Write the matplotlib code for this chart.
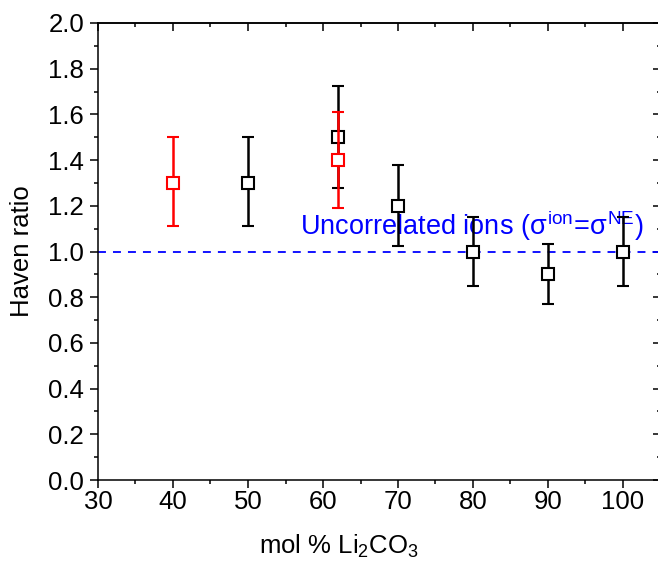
import numpy as np
import matplotlib
matplotlib.use("Agg")
import matplotlib.pyplot as plt
from matplotlib.ticker import MultipleLocator

plt.rcParams['font.family'] = ['Liberation Sans', 'DejaVu Sans']
plt.rcParams['mathtext.fontset'] = 'custom'
plt.rcParams['mathtext.rm'] = 'Liberation Sans'
plt.rcParams['mathtext.it'] = 'Liberation Sans'
plt.rcParams['mathtext.bf'] = 'Liberation Sans:bold'

# black series
black_x = [50, 62, 70, 80, 90, 100]
black_y = [1.30, 1.50, 1.20, 1.00, 0.90, 1.00]
black_lo = [0.19, 0.22, 0.175, 0.15, 0.13, 0.15]
black_hi = [0.20, 0.225, 0.18, 0.15, 0.135, 0.15]

# red series
red_x = [40, 62]
red_y = [1.30, 1.40]
red_lo = [0.19, 0.21]
red_hi = [0.20, 0.21]

uncorrelated = 1.0
xticks = [30, 40, 50, 60, 70, 80, 90, 100]
yticks = np.arange(0, 2.01, 0.2)

fig = plt.figure(figsize=(6.58, 5.68), dpi=100)
W, H = 658, 568
ax = fig.add_axes([98 / W, 1 - 480 / H, (660.5 - 98) / W, (480 - 23) / H])

ax.axhline(uncorrelated, color='#0000ff', lw=1.3, ls=(0, (4.4, 3.9)), zorder=1)

ax.errorbar(black_x, black_y, yerr=[black_lo, black_hi], fmt='s', color='black',
            mfc='white', mec='black', ms=8.5, mew=1.5, elinewidth=1.8,
            capsize=4.3, capthick=1.8, zorder=3)
ax.errorbar(red_x, red_y, yerr=[red_lo, red_hi], fmt='s', color='#ff0000',
            mfc='white', mec='#ff0000', ms=8.5, mew=1.5, elinewidth=1.8,
            capsize=4.3, capthick=1.8, zorder=4)

ax.text(56.9, 1.072, r"Uncorrelated ions ($\sigma^{\mathrm{ion}}$=$\sigma^{\mathrm{NE}}$)",
        color='#0000ff', fontsize=19.5, va='baseline', zorder=2)

ax.set_xlim(30, 105)
ax.set_ylim(0, 2.0)
ax.set_xticks(xticks)
ax.xaxis.set_minor_locator(MultipleLocator(5))
ax.set_yticks(yticks)
ax.set_yticklabels([f"{v:.1f}" for v in yticks])
ax.yaxis.set_minor_locator(MultipleLocator(0.1))

for s in ax.spines.values():
    s.set_linewidth(1.1)

ax.tick_params(which='both', direction='out', labelsize=18.5, width=1.1,
               top=False, right=False)
ax.tick_params(which='major', length=6)
ax.tick_params(which='minor', length=3)
ax.tick_params(axis='x', pad=1)
ax.tick_params(axis='y', pad=4)

# inward ticks on top and right spines
sec_x = ax.secondary_xaxis('top')
sec_x.set_xticks(xticks)
sec_x.xaxis.set_minor_locator(MultipleLocator(5))
sec_x.tick_params(which='both', direction='in', labeltop=False, width=1.1)
sec_x.tick_params(which='major', length=6)
sec_x.tick_params(which='minor', length=3)
sec_x.spines['top'].set_linewidth(1.1)
sec_y = ax.secondary_yaxis('right')
sec_y.set_yticks(yticks)
sec_y.yaxis.set_minor_locator(MultipleLocator(0.1))
sec_y.tick_params(which='both', direction='in', labelright=False, width=1.1)
sec_y.tick_params(which='major', length=6)
sec_y.tick_params(which='minor', length=3)

ax.set_ylabel("Haven ratio", fontsize=18.5)
ax.yaxis.set_label_coords(-0.113, 0.5)
ax.set_xlabel(r"mol % Li$_2$CO$_3$", fontsize=18.5)
ax.xaxis.set_label_coords(0.428, -0.115)

fig.savefig("out.png", dpi=100)
